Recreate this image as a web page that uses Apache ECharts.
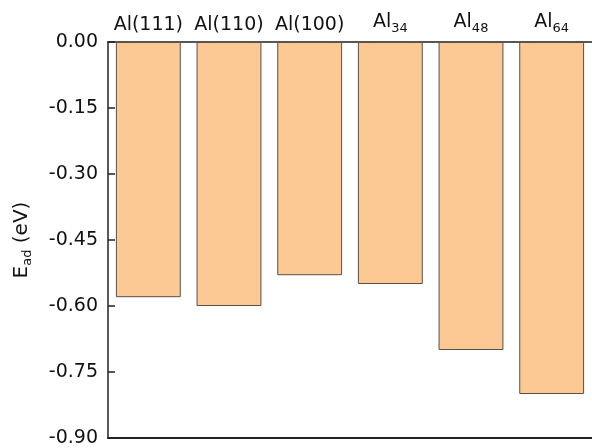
<!DOCTYPE html>
<html>
<head>
<meta charset="utf-8">
<script src="https://cdn.jsdelivr.net/npm/echarts@6/dist/echarts.min.js"></script>
<style>html,body{margin:0;padding:0;background:#fff}#c{width:592px;height:448px}</style>
</head>
<body>
<div id="c"></div>
<script>
var categories = ['Al(111)', 'Al(110)', 'Al(100)', 'Al{sub|34}', 'Al{sub|48}', 'Al{sub|64}'];
var values = [-0.58, -0.60, -0.53, -0.55, -0.70, -0.80];
var yTicks = { min: -0.90, max: 0, interval: 0.15 };

var chart = echarts.init(document.getElementById('c'));
var font = 'DejaVu Sans';
chart.setOption({
  animation: false,
  grid: { left: 108, top: 42, width: 490, height: 396 },
  xAxis: [{
    type: 'category',
    data: categories,
    position: 'top',
    axisLine: { lineStyle: { color: '#222', width: 1.5 } },
    axisTick: { show: false },
    axisLabel: {
      interval: 0,
      hideOverlap: false,
      margin: 7,
      color: '#111',
      fontFamily: font,
      fontSize: 19,
      rich: { sub: { fontFamily: font, fontSize: 13, color: '#111', padding: [12, 0, 0, 0] } }
    }
  }, {
    type: 'category',
    data: categories,
    position: 'bottom',
    axisLine: { lineStyle: { color: '#222', width: 2 } },
    axisTick: { show: false },
    axisLabel: { show: false }
  }],
  yAxis: {
    type: 'value',
    min: yTicks.min,
    max: yTicks.max,
    interval: yTicks.interval,
    name: 'E{sub|ad} (eV)',
    nameLocation: 'middle',
    nameRotate: 90,
    nameGap: 74,
    nameTextStyle: {
      fontFamily: font, fontSize: 20, color: '#111',
      rich: { sub: { fontFamily: font, fontSize: 13, color: '#111', padding: [12, 0, 0, 0] } }
    },
    splitLine: { show: false },
    axisLine: { show: true, lineStyle: { color: '#222', width: 1.5 } },
    axisTick: { show: true, inside: true, length: 7, lineStyle: { color: '#222', width: 1.5 } },
    axisLabel: {
      margin: 10,
      color: '#111',
      fontFamily: font,
      fontSize: 19,
      formatter: function (v) { return v.toFixed(2); }
    }
  },
  series: [{
    type: 'bar',
    data: values,
    barCategoryGap: '19.6%',
    itemStyle: { color: '#FCC894', borderColor: '#5a5048', borderWidth: 1 }
  }]
});
</script>
</body>
</html>
